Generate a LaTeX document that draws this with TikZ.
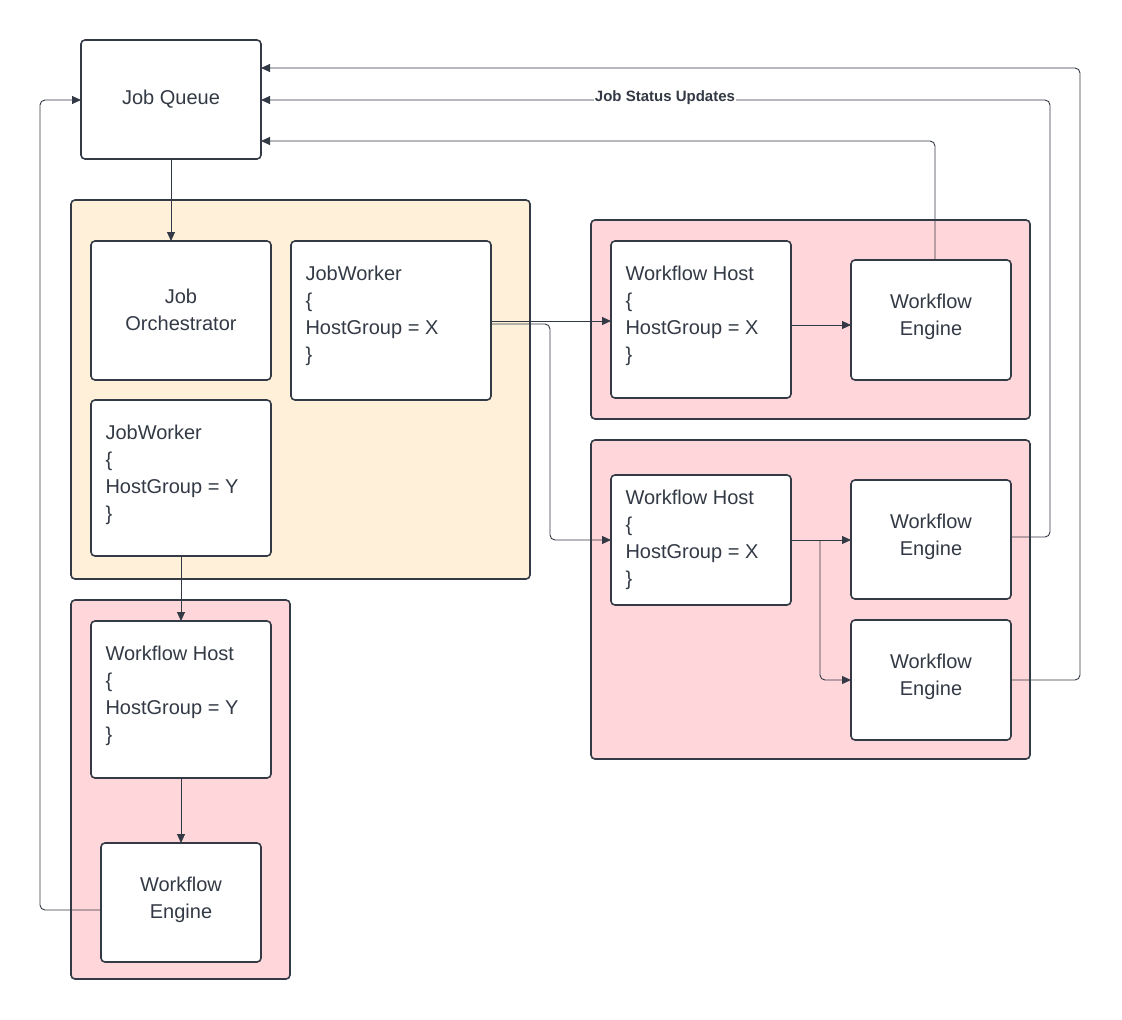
\documentclass[tikz,border=0pt]{standalone}
\usepackage{fontspec}
\setmainfont{Liberation Sans}
\usetikzlibrary{arrows.meta}
\definecolor{ink}{HTML}{333A45}
\definecolor{orangebg}{HTML}{FFF1D9}
\definecolor{pinkbg}{HTML}{FFD6D9}
\tikzset{
  box/.style={draw=ink,line width=1.6pt,rounded corners=4pt,fill=white},
  group/.style={draw=ink,line width=1.6pt,rounded corners=4pt},
  lbl/.style={text=ink,font=\fontsize{20}{27}\selectfont,align=center},
  hostlbl/.style={text=ink,font=\fontsize{20}{27}\selectfont,align=left,anchor=north west},
  link/.style={draw=ink,line width=0.9pt,rounded corners=5pt,-{Triangle[length=9pt,width=8pt]}}
}
\begin{document}
\begin{tikzpicture}[x=1pt,y=-1pt]
  \useasboundingbox (0,0) rectangle (1122,1020);
  % groups
  \draw [group,fill=orangebg] (71,200) rectangle (530,579);
  \draw [group,fill=pinkbg] (71,600) rectangle (290,979);
  \draw [group,fill=pinkbg] (591,220) rectangle (1030,419);
  \draw [group,fill=pinkbg] (591,440) rectangle (1030,759);
  % boxes
  \draw [box] (81,40) rectangle (261,159);
  \node (Queue) [lbl] at (171,99) {Job Queue};
  \coordinate (QueueS) at (171,159);
  \draw [box] (91,241) rectangle (271,380);
  \node (Orch) [lbl] at (181,310) {Job\\Orchestrator};
  \draw [box] (291,241) rectangle (491,400);
  \node (WorkerX) [hostlbl] at (302,262) {JobWorker\\\{\\HostGroup = X\\\}};
  \draw [box] (91,400) rectangle (271,556);
  \node (WorkerY) [hostlbl] at (102,421) {JobWorker\\\{\\HostGroup = Y\\\}};
  \draw [box] (91,621) rectangle (271,778);
  \node (HostY) [hostlbl] at (102,642) {Workflow Host\\\{\\HostGroup = Y\\\}};
  \draw [box] (101,843) rectangle (261,962);
  \node (EngY) [lbl] at (181,900) {Workflow\\Engine};
  \draw [box] (611,241) rectangle (791,398);
  \node (HostX1) [hostlbl] at (622,262) {Workflow Host\\\{\\HostGroup = X\\\}};
  \draw [box] (851,260) rectangle (1011,380);
  \node (Eng1) [lbl] at (931,317) {Workflow\\Engine};
  \draw [box] (611,475) rectangle (791,605);
  \node (HostX2) [hostlbl] at (622,486) {Workflow Host\\\{\\HostGroup = X\\\}};
  \draw [box] (851,480) rectangle (1011,599);
  \node (Eng2) [lbl] at (931,537) {Workflow\\Engine};
  \draw [box] (851,620) rectangle (1011,740);
  \node (Eng3) [lbl] at (931,677) {Workflow\\Engine};
  % connectors
  \draw [link] (171,159) -- (171,241);
  \draw [link] (491,321) -- (611,321);
  \draw [link] (491,324) -- (550,324) -- (550,540) -- (611,540);
  \draw [link] (791,325) -- (851,325);
  \draw [link] (791,540) -- (851,540);
  \draw [link] (820,540) -- (820,680) -- (851,680);
  \draw [link] (181,556) -- (181,621);
  \draw [link] (181,778) -- (181,843);
  \draw [link] (101,910) -- (40,910) -- (40,100) -- (81,100);
  \draw [link] (935,260) -- (935,141) -- (261,141);
  \draw [link] (1011,537) -- (1050,537) -- (1050,100) -- (261,100);
  \draw [link] (1011,680) -- (1080,680) -- (1080,68) -- (261,68);
  \node (Status) [fill=white,inner sep=1pt,text=ink,font=\fontsize{15}{18}\selectfont\bfseries] at (665,98) {Job Status Updates};
\end{tikzpicture}
\end{document}
